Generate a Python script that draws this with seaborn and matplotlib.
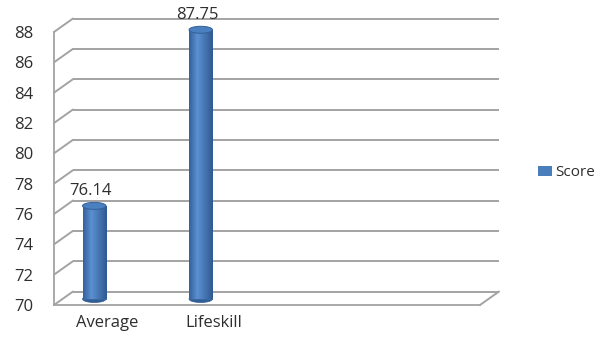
import numpy as np
import matplotlib
matplotlib.use("Agg")
import matplotlib.pyplot as plt
import matplotlib.transforms as mtransforms
from matplotlib.patches import Ellipse, Patch
from matplotlib.colors import LinearSegmentedColormap
import seaborn as sns

# ---- data ----
categories = ["Average", "Lifeskill"]
scores = [76.14, 87.75]
series_name = "Score"
y_ticks = [70, 72, 74, 76, 78, 80, 82, 84, 86, 88]
n_slots = 4  # category slots on the x axis (two empty)

# ---- style ----
sns.set_style("white")
plt.rcParams["font.family"] = ["Open Sans", "DejaVu Sans"]
TEXT = "#2e2e2e"
GRID = "#a3a3a3"
BAR = "#4a7ebb"
FS = 12
DPI = 100
DEPTH_DX, DEPTH_DY = 19, 13.5      # pixel offset of back wall
BAR_DX, BAR_DY = -13, 6            # pixel offset of cylinders

fig = plt.figure(figsize=(6.02, 3.37), dpi=DPI)
fig.patch.set_facecolor("white")
ax = fig.add_axes([54 / 602, 32 / 337, 426 / 602, 273 / 337])

sns.barplot(x=categories, y=scores, color=BAR, width=0.22, ax=ax,
            saturation=1, edgecolor="#3a66a0", linewidth=0.6, zorder=3)

ymin, ymax = y_ticks[0], y_ticks[-1]
ax.set_xlim(-0.5, n_slots - 0.5)
ax.set_ylim(ymin, ymax)
ax.set_yticks(y_ticks)
ax.set_xticks(range(len(categories)))
ax.set_xticklabels(categories)
ax.set_xticks(np.arange(-0.5, n_slots, 1.0), minor=True)
ax.tick_params(axis="x", which="major", length=0, pad=7, labelsize=FS, labelcolor=TEXT)
ax.tick_params(axis="x", which="minor", length=5, color=GRID, width=1, direction="out")
ax.tick_params(axis="y", length=4, color=GRID, width=1, pad=11, labelsize=FS, labelcolor=TEXT)
ax.set_facecolor("none")
for s in ["top", "right"]:
    ax.spines[s].set_visible(False)
for s in ["left", "bottom"]:
    ax.spines[s].set_color(GRID)
    ax.spines[s].set_linewidth(1.3)

# back wall gridlines
back = ax.transData + mtransforms.ScaledTranslation(DEPTH_DX / DPI, DEPTH_DY / DPI, fig.dpi_scale_trans)
ax.hlines(y_ticks, -0.5, n_slots - 0.5, transform=back, color=GRID, lw=1.4, clip_on=False, zorder=0)

# diagonal connectors (left wall) and floor right edge
fig.canvas.draw()
for t in y_ticks:
    x0, y0 = ax.transData.transform((-0.5, t))
    ax.plot([x0, x0 + DEPTH_DX], [y0, y0 + DEPTH_DY], transform=mtransforms.IdentityTransform(),
            color=GRID, lw=1.4, clip_on=False, zorder=0)
x0, y0 = ax.transData.transform((n_slots - 0.5, ymin))
ax.plot([x0, x0 + DEPTH_DX], [y0, y0 + DEPTH_DY], transform=mtransforms.IdentityTransform(),
        color=GRID, lw=1.4, clip_on=False, zorder=0)

# cylinders
bar_tr = ax.transData + mtransforms.ScaledTranslation(BAR_DX / DPI, BAR_DY / DPI, fig.dpi_scale_trans)
px_per_y = ax.bbox.height / (ymax - ymin)
ell_h = 7 / px_per_y
cmap = LinearSegmentedColormap.from_list("cyl", [(0, "#34619a"), (0.35, "#5b90d2"), (1, "#2f5a90")])
grad = np.linspace(0, 1, 64)[None, :]
for p, v in zip(ax.patches, scores):
    p.set_y(ymin)
    p.set_height(v - ymin)
    p.set_transform(bar_tr)
    p.set_clip_on(False)
    xl, w = p.get_x(), p.get_width()
    bottom = Ellipse((xl + w / 2, ymin), w, ell_h, transform=bar_tr, facecolor="#325e96",
                     edgecolor="#2f5a90", lw=0.5, zorder=2.5, clip_on=False)
    ax.add_patch(bottom)
    im = ax.imshow(grad, extent=[xl, xl + w, ymin, v], aspect="auto", cmap=cmap,
                   transform=bar_tr, zorder=3.1, interpolation="bilinear")
    im.set_clip_path(p)
    top = Ellipse((xl + w / 2, v), w, ell_h, transform=bar_tr, facecolor="#4a7fc0",
                  edgecolor="#345f98", lw=0.7, zorder=3.5, clip_on=False)
    ax.add_patch(top)

ax.set_xlim(-0.5, n_slots - 0.5)
ax.set_ylim(ymin, ymax)

# data labels
anns = ax.bar_label(ax.containers[0], labels=[f"{v:.2f}" for v in scores],
                    fontsize=FS, color=TEXT)
for a in anns:
    a.xyann = (-11.9, 9)

# legend
LFS = 11
fig.legend(handles=[Patch(facecolor=BAR, edgecolor="none", label=series_name)],
           loc="center left", bbox_to_anchor=(538 / 602, 1 - 173 / 337), frameon=False,
           fontsize=LFS, handlelength=0.92, handleheight=0.65, handletextpad=0.2,
           borderpad=0, borderaxespad=0, labelcolor=TEXT)

fig.savefig("out.png", dpi=DPI)
